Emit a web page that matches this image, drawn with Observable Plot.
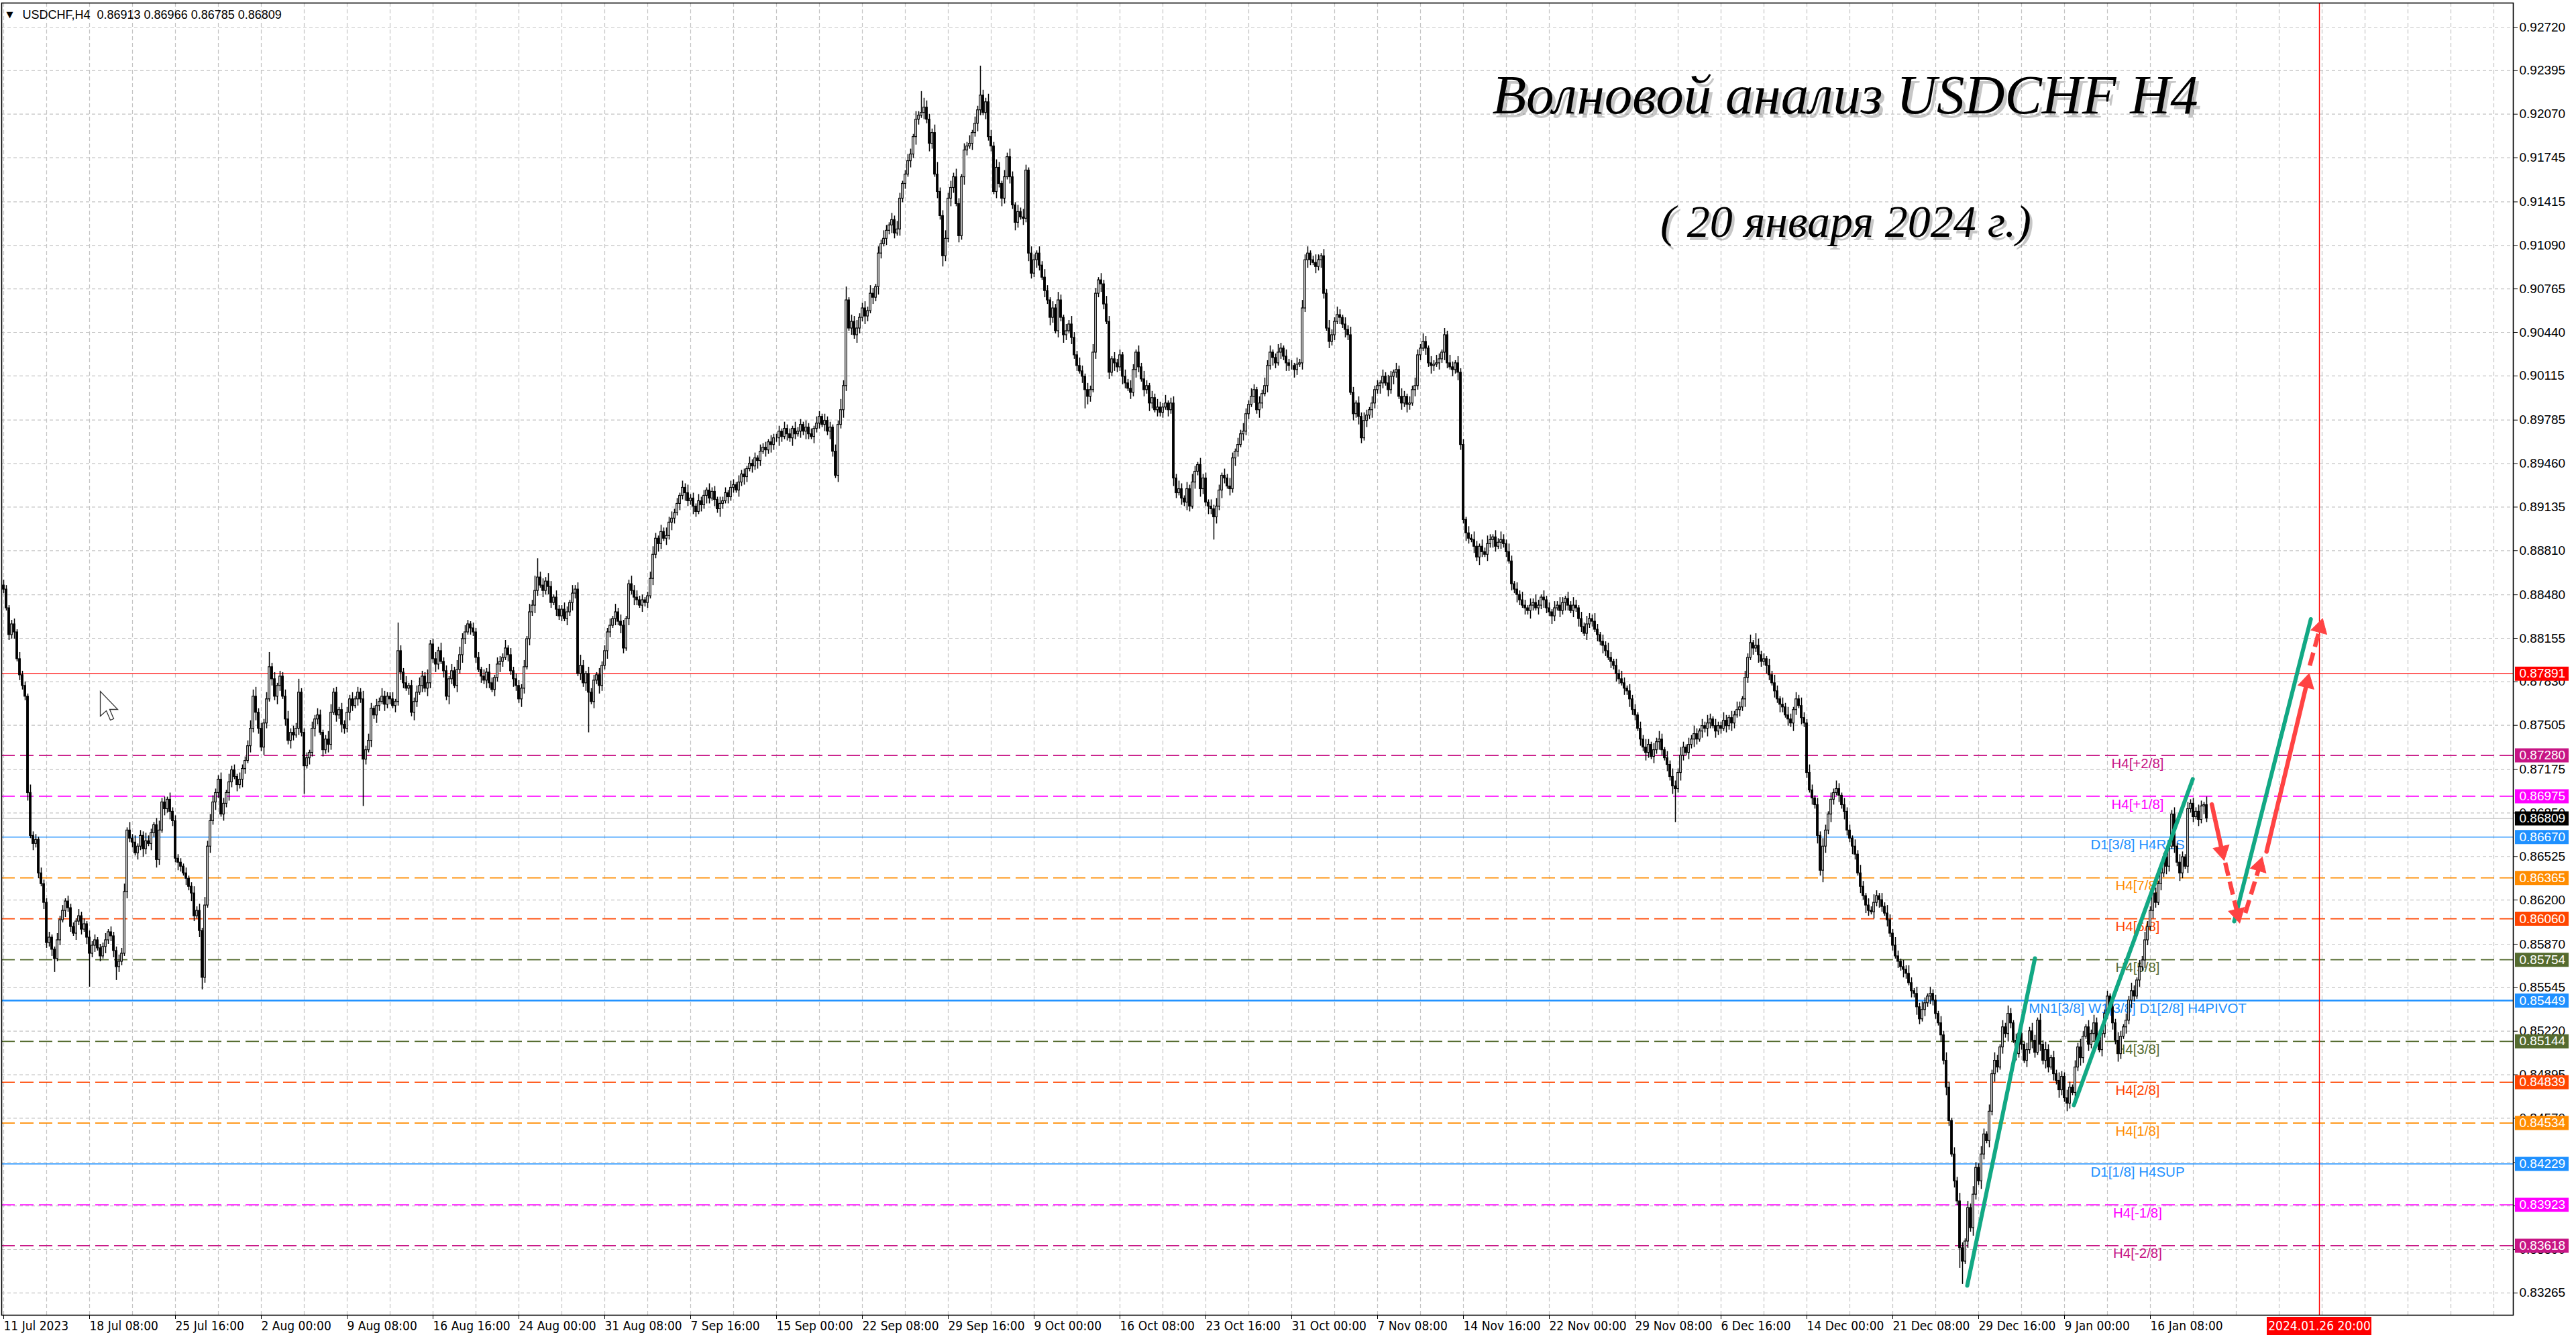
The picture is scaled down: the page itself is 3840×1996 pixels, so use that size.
<!DOCTYPE html>
<html>
<head>
<meta charset="utf-8">
<script src="https://cdn.jsdelivr.net/npm/d3@7"></script>
<script src="https://cdn.jsdelivr.net/npm/@observablehq/plot@0.6"></script>
<style>
  html, body { margin: 0; padding: 0; background: #fff; }
  #chart svg { display: block; }
</style>
</head>
<body>
<div id="chart"></div>
<script>
// ---- data (prices in pips, 0.0001) ----
const symbolName = "USDCHF,H4";
const headerOHLC = [0.86913, 0.86966, 0.86785, 0.86809];
const firstOpen = 8855;

// one close per H4 bar, 16 bars per row
const closes = [
  8852,8838,8818,8826,8820,8800,8788,8780,8772,8700,8668,8662,8665,8640,8632,8618,
  8588,8592,8583,8576,8590,8605,8612,8619,8614,8600,8595,8604,8608,8598,8602,8592,
  8580,8586,8590,8584,8578,8585,8590,8596,8593,8582,8570,8574,8580,8626,8672,8666,
  8663,8655,8660,8668,8658,8664,8662,8670,8676,8650,8672,8693,8688,8695,8686,8679,
  8651,8648,8645,8640,8636,8630,8625,8608,8612,8597,8562,8616,8660,8679,8693,8700,
  8710,8684,8692,8700,8708,8717,8712,8706,8710,8718,8724,8735,8748,8772,8760,8748,
  8734,8752,8770,8794,8785,8772,8780,8787,8772,8755,8739,8745,8743,8748,8775,8745,
  8720,8726,8730,8748,8755,8758,8745,8732,8740,8736,8760,8775,8758,8762,8751,8748,
  8760,8770,8765,8770,8775,8770,8725,8732,8739,8763,8758,8765,8768,8772,8766,8772,
  8770,8765,8768,8806,8790,8782,8778,8780,8760,8768,8775,8780,8787,8778,8782,8811,
  8800,8796,8806,8798,8791,8772,8785,8791,8780,8792,8803,8815,8820,8826,8823,8820,
  8801,8792,8787,8784,8790,8782,8777,8786,8796,8798,8801,8808,8803,8791,8785,8780,
  8770,8778,8794,8815,8835,8840,8851,8861,8855,8851,8858,8854,8842,8846,8837,8832,
  8837,8830,8835,8842,8849,8852,8789,8795,8782,8789,8775,8768,8784,8788,8780,8795,
  8806,8820,8825,8830,8835,8828,8825,8808,8830,8856,8851,8846,8844,8840,8844,8842,
  8847,8860,8878,8890,8886,8895,8890,8892,8902,8905,8909,8916,8922,8928,8924,8918,
  8920,8914,8910,8918,8915,8922,8926,8920,8925,8919,8912,8916,8918,8924,8921,8928,
  8930,8926,8932,8938,8936,8942,8946,8944,8950,8948,8955,8958,8956,8962,8960,8965,
  8965,8970,8966,8972,8968,8965,8972,8968,8970,8975,8970,8973,8968,8966,8972,8976,
  8981,8975,8978,8970,8973,8955,8937,8975,8986,9004,9068,9047,9052,9042,9047,9055,
  9062,9056,9060,9073,9070,9078,9103,9110,9114,9120,9124,9128,9118,9121,9144,9155,
  9162,9172,9177,9190,9203,9206,9208,9212,9203,9185,9193,9162,9149,9131,9101,9114,
  9144,9152,9160,9140,9116,9160,9180,9183,9185,9193,9200,9210,9221,9208,9216,9190,
  9183,9149,9167,9155,9144,9160,9175,9160,9139,9126,9134,9130,9129,9165,9103,9088,
  9098,9103,9094,9085,9075,9068,9055,9062,9045,9068,9055,9042,9045,9050,9040,9027,
  9019,9015,9011,9001,8996,9001,9029,9073,9083,9080,9065,9052,9014,9024,9021,9018,
  9027,9011,9006,9002,8999,9016,9029,9018,9009,9001,9004,8991,8995,8986,8988,8984,
  8988,8991,8986,8991,8935,8924,8927,8920,8917,8927,8914,8932,8940,8945,8927,8935,
  8917,8914,8912,8906,8914,8926,8937,8935,8929,8927,8950,8955,8960,8968,8970,8983,
  8990,8996,9001,8986,8991,8998,9004,9019,9029,9025,9021,9029,9032,9026,9021,9019,
  9019,9016,9020,9021,9062,9098,9103,9098,9096,9093,9098,9101,9073,9047,9037,9042,
  9052,9057,9055,9050,9046,9042,8999,8983,8991,8981,8965,8978,8982,8986,8991,9001,
  9004,9006,9011,9006,9001,9011,9014,9016,8996,8991,8996,8990,8991,9001,9004,9027,
  9032,9037,9032,9021,9019,9020,9021,9024,9029,9042,9021,9018,9016,9021,9014,8960,
  8904,8894,8890,8889,8884,8876,8884,8880,8878,8886,8889,8891,8884,8887,8889,8886,
  8880,8873,8856,8852,8848,8844,8840,8838,8836,8840,8842,8838,8840,8846,8844,8838,
  8835,8832,8838,8840,8836,8842,8845,8840,8836,8840,8838,8830,8824,8819,8826,8830,
  8828,8822,8818,8813,8810,8806,8801,8798,8795,8789,8785,8782,8778,8776,8770,8762,
  8758,8748,8740,8734,8730,8736,8727,8732,8738,8740,8732,8726,8721,8712,8705,8703,
  8715,8728,8734,8730,8736,8740,8744,8740,8746,8750,8748,8752,8755,8750,8746,8750,
  8748,8754,8750,8756,8752,8758,8762,8764,8770,8786,8801,8812,8808,8810,8803,8798,
  8800,8795,8788,8782,8776,8770,8766,8764,8758,8755,8752,8762,8770,8765,8756,8752,
  8715,8702,8696,8691,8668,8642,8660,8672,8684,8695,8700,8703,8698,8691,8686,8672,
  8666,8660,8654,8640,8630,8623,8616,8612,8611,8618,8623,8620,8615,8610,8605,8595,
  8586,8578,8574,8570,8568,8565,8558,8552,8550,8540,8531,8538,8543,8548,8550,8545,
  8535,8528,8519,8500,8480,8455,8430,8410,8395,8360,8350,8365,8390,8375,8400,8420,
  8410,8430,8445,8440,8462,8490,8500,8495,8510,8525,8520,8535,8528,8515,8505,8520,
  8512,8500,8508,8522,8515,8506,8530,8512,8500,8508,8495,8502,8490,8485,8478,8488,
  8472,8468,8480,8476,8495,8510,8502,8518,8525,8512,8520,8528,8515,8508,8520,8535,
  8548,8540,8528,8515,8505,8518,8525,8530,8545,8552,8548,8560,8570,8575,8590,8600,
  8612,8625,8618,8632,8640,8652,8645,8660,8684,8660,8648,8640,8652,8645,8688,8692,
  8682,8686,8680,8690,8691,8681
];

// wick lengths in pips, one base-36 char per bar
const wickUp = [
  "4323425332634243","3422534243325342","5342335243354626","3524364325734253",
  "4332423535264553","3542634253346573","435b3524356354a3","3425354236634253",
  "4352436354253643","352l4352435643a3","4536342537645324","3425364254362534",
  "435264be45364253","3542635842534253","4352635423645342","3564253645342536",
  "3425342534253425","4253425342534253","3425342534253425","4253425384a25463",
  "4536425364253642","354263g754369346","453642536253m436","5364253642536425",
  "4253642536425364","3642536425364253","4253642536425364","3624536425364253",
  "4253642536425364","3642536452364253","4253645236425364","3642536425364253",
  "4253642536425364","3642536425364253","4253642536425364","3642536425364253",
  "4253642536425364","3642536425364253","4253642536425364","3642536425364253",
  "3642536425362953","4253642536425364","3642536425364253","4253642536425364",
  "3642536425364253","4253642536425364","3642536425364253","4253642536425364",
  "3642536425364253","4253642536425364","3642536435264253","435426"
].join("");
const wickDown = [
  "3243524336253425","435a242534253425","p352425345a43253","4253642536425364",
  "3642536425942536","4253642536425364","3642536425364253","l253642536425364",
  "364253z425364253","4253642536425364","3642536425364253","4253642536425364",
  "3642536425364253","4253642536u25364","3642536425364253","4253642536425364",
  "3642536425364253","4253642536425364","3642536425364253","4253642536425364",
  "3642536425364253","4253642536425384","3642536425364253","4253642536425364",
  "3642536425364253","425e642536425364","3642536425364253","4253642536425364",
  "364h536425364253","4253642536425364","3642536425364253","4253642536425364",
  "3642536425364253","4253642536425364","3642536425364253","4253642536425364",
  "3642536425364253","4253642536425364","425364253642536p","3642536425364253",
  "4253642536425364","3642536425364253","4253649536425364","3642536425364253",
  "4253642536425364","425364253fh25364","3642536425364253","4253642536425364",
  "3642536425364253","4253642536425364","3642536425364253","425363"
].join("");

// time axis: one label every 32 bars
const xTickLabels = [
  "11 Jul 2023","18 Jul 08:00","25 Jul 16:00","2 Aug 00:00","9 Aug 08:00","16 Aug 16:00",
  "24 Aug 00:00","31 Aug 08:00","7 Sep 16:00","15 Sep 00:00","22 Sep 08:00","29 Sep 16:00",
  "9 Oct 00:00","16 Oct 08:00","23 Oct 16:00","31 Oct 00:00","7 Nov 08:00","14 Nov 16:00",
  "22 Nov 00:00","29 Nov 08:00","6 Dec 16:00","14 Dec 00:00","21 Dec 08:00","29 Dec 16:00",
  "9 Jan 00:00","16 Jan 08:00"
];
const yTicks = [
  0.92720,0.92395,0.92070,0.91745,0.91415,0.91090,0.90765,0.90440,0.90115,0.89785,
  0.89460,0.89135,0.88810,0.88480,0.88155,0.87830,0.87505,0.87175,0.86850,0.86525,
  0.86200,0.85870,0.85545,0.85220,0.84895,0.84570,0.84240,0.83915,0.83590,0.83265
];

// Murrey-math levels
const levelNames = [
  "H4[+2/8]","H4[+1/8]","D1[3/8] H4RES","H4[7/8]","H4[6/8]","H4[5/8]",
  "MN1[3/8] W1[3/8] D1[2/8] H4PIVOT","H4[3/8]","H4[2/8]","H4[1/8]",
  "D1[1/8] H4SUP","H4[-1/8]","H4[-2/8]"
];
const levelPrices = [
  0.87280,0.86975,0.86670,0.86365,0.86060,0.85754,0.85449,0.85144,0.84839,0.84534,
  0.84229,0.83923,0.83618
];
const redLinePrice = 0.87891;
const markerBar = 863;
const markerLabel = "2024.01.26 20:00";

// wave lines and forecast arrows (bar index, price)
const waveLines = [
  {i1: 731.75, p1: 0.83319, i2: 757.0, p2: 0.85765},
  {i1: 771.5, p1: 0.84667, i2: 815.8, p2: 0.87103},
  {i1: 831.25, p1: 0.86040, i2: 859.8, p2: 0.88298}
];
const forecastArrows = [
  {i1: 822.9, p1: 0.86914, i2: 827.5, p2: 0.86496, kind: "main"},
  {i1: 827.9, p1: 0.86479, i2: 833.3, p2: 0.86028, kind: "alt"},
  {i1: 835.4, p1: 0.86103, i2: 841.7, p2: 0.86520, kind: "alt"},
  {i1: 843.3, p1: 0.86562, i2: 859.2, p2: 0.87892, kind: "main"},
  {i1: 859.4, p1: 0.87951, i2: 864.2, p2: 0.88302, kind: "alt"}
];
// mouse pointer left on the screenshot
const pointerAt = {i: 36, p: 0.87759};
const titleText = "Волновой анализ USDCHF H4";
const subtitleText = "( 20 января 2024 г.)";

// ---- styles ----
const levelStyle = {
  "H4[+2/8]": {color: "#c71585", dash: true, width: 1.7},
  "H4[+1/8]": {color: "#ff00ff", dash: true, width: 1.7},
  "D1[3/8] H4RES": {color: "#1e90ff", dash: false, width: 1.4},
  "H4[7/8]": {color: "#ff8c00", dash: true, width: 1.7},
  "H4[6/8]": {color: "#ff4500", dash: true, width: 1.7},
  "H4[5/8]": {color: "#556b2f", dash: true, width: 1.7},
  "MN1[3/8] W1[3/8] D1[2/8] H4PIVOT": {color: "#1e90ff", dash: false, width: 2.6},
  "H4[3/8]": {color: "#556b2f", dash: true, width: 1.7},
  "H4[2/8]": {color: "#ff4500", dash: true, width: 1.7},
  "H4[1/8]": {color: "#ff8c00", dash: true, width: 1.7},
  "D1[1/8] H4SUP": {color: "#1e90ff", dash: false, width: 1.4},
  "H4[-1/8]": {color: "#ff00ff", dash: true, width: 1.7},
  "H4[-2/8]": {color: "#c71585", dash: true, width: 1.7}
};
const W = 3840, H = 1996;
const mLeft = 2, mRight = 94, mTop = 4, mBottom = 36;
const xDomain = [-0.75, 935.25];
const yDomain = [0.830988, 0.929004];
const kx = (W - mLeft - mRight) / (xDomain[1] - xDomain[0]);
const ky = (H - mTop - mBottom) / (yDomain[1] - yDomain[0]);
const sans = "'Liberation Sans', Arial, sans-serif";
const narrow = "'Liberation Sans Narrow', 'DejaVu Sans Condensed', sans-serif";
const serif = "'Liberation Serif', serif";
const fmt5 = d3.format(".5f");
const arrowRed = "#ff4343";
const waveGreen = "#12a884";

// arrow cursor outline, tip at the anchor point
const pointerSymbol = {
  draw(ctx) {
    const pts = [[0, 0], [0, 37], [9, 29], [15, 43], [20, 41], [14, 27], [26, 27]];
    ctx.moveTo(pts[0][0], pts[0][1]);
    for (const [px, py] of pts.slice(1)) ctx.lineTo(px, py);
    ctx.closePath();
  }
};

// ---- derived tables ----
const candles = closes.map((c, i) => {
  const o = i === 0 ? firstOpen : closes[i - 1];
  const up = parseInt(wickUp[i] || "3", 36);
  const dn = parseInt(wickDown[i] || "3", 36);
  return {i, open: o / 1e4, close: c / 1e4,
    high: (Math.max(o, c) + up) / 1e4, low: (Math.min(o, c) - dn) / 1e4};
});
const levels = levelNames.map((name, k) => ({name, price: levelPrices[k], ...levelStyle[name]}));
const boxes = [
  {price: redLinePrice, color: "#ff0000"},
  ...levels.map(d => ({price: d.price, color: d.color})),
  {price: headerOHLC[3], color: "#000000"}
];
const xTickBars = xTickLabels.map((_, k) => k * 32);
const labelOf = new Map(xTickBars.map((b, k) => [b, xTickLabels[k]]));
const gridBars = d3.range(0, xDomain[1], 16);

// arrow heads: triangle centred behind the tip, rotated along the shaft
const headBack = 14;
const arrows = forecastArrows.map(a => {
  const vx = (a.i2 - a.i1) * kx, vy = -(a.p2 - a.p1) * ky;
  const len = Math.hypot(vx, vy), ux = vx / len, uy = vy / len;
  return {...a,
    ie: a.i2 - 14 * ux / kx, pe: a.p2 + 14 * uy / ky,
    ih: a.i2 - headBack * ux / kx, ph: a.p2 + headBack * uy / ky,
    rot: Math.atan2(ux, -uy) * 180 / Math.PI};
});

// right-margin price boxes, in scale units
const boxX1 = xDomain[1] + 3 / kx, boxX2 = xDomain[1] + 83 / kx;

const chart = Plot.plot({
  width: W, height: H,
  marginLeft: mLeft, marginRight: mRight, marginTop: mTop, marginBottom: mBottom,
  x: {domain: xDomain},
  y: {domain: yDomain},
  color: {type: "identity"},
  style: {fontFamily: sans, background: "#fff", overflow: "visible"},
  marks: [
    // grid
    Plot.ruleX(gridBars, {x: d => d, stroke: "#c4c4c4", strokeDasharray: "6,4", strokeWidth: 1.2}),
    Plot.ruleY(yTicks, {y: d => d, stroke: "#c4c4c4", strokeDasharray: "5,4", strokeWidth: 1.2}),
    // levels
    Plot.ruleY(levels.filter(d => d.dash), {y: "price", stroke: "color", strokeWidth: "width", strokeDasharray: "20,8"}),
    Plot.ruleY(levels.filter(d => !d.dash), {y: "price", stroke: "color", strokeWidth: "width"}),
    Plot.ruleY([redLinePrice], {stroke: "#ff0000", strokeWidth: 1.4}),
    Plot.ruleY([headerOHLC[3]], {stroke: "#bdbdbd", strokeWidth: 1.4}),
    Plot.ruleX([markerBar], {stroke: "#ff0000", strokeWidth: 1.4}),
    Plot.text(levels, {
      y: "price", text: "name", fill: "color", frameAnchor: "right", dx: -560,
      textAnchor: "middle", lineAnchor: "top", dy: 4, fontSize: 20.5, fontFamily: sans
    }),
    // candles
    Plot.ruleX(candles, {x: "i", y1: "low", y2: "high", stroke: "#000", strokeWidth: 1.5}),
    Plot.rect(candles.filter(d => d.close >= d.open), {
      x1: d => d.i - 0.32, x2: d => d.i + 0.32, y1: "open", y2: "close",
      fill: "#fff", stroke: "#000", strokeWidth: 1.2
    }),
    Plot.rect(candles.filter(d => d.close < d.open), {
      x1: d => d.i - 0.32, x2: d => d.i + 0.32, y1: "open", y2: "close",
      fill: "#000", stroke: "#000", strokeWidth: 1.2
    }),
    // waves and forecast
    Plot.link(waveLines, {x1: "i1", y1: "p1", x2: "i2", y2: "p2", stroke: waveGreen, strokeWidth: 6, strokeLinecap: "round"}),
    Plot.link(arrows.filter(d => d.kind === "main"), {x1: "i1", y1: "p1", x2: "ie", y2: "pe", stroke: arrowRed, strokeWidth: 6.5, strokeLinecap: "round"}),
    Plot.link(arrows.filter(d => d.kind === "alt"), {x1: "i1", y1: "p1", x2: "ie", y2: "pe", stroke: arrowRed, strokeWidth: 6.5, strokeDasharray: "20,9"}),
    Plot.dot(arrows, {x: "ih", y: "ph", symbol: "triangle", r: 9, rotate: "rot", fill: arrowRed, stroke: arrowRed, strokeWidth: 1}),
    Plot.dot([pointerAt], {x: "i", y: "p", symbol: pointerSymbol, fill: "#fff", stroke: "#333", strokeWidth: 1.3}),
    // axes
    Plot.axisY(yTicks, {
      anchor: "right", tickFormat: fmt5, tickSize: 6, tickPadding: 3, label: null,
      fontSize: 19, fontFamily: sans, color: "#000"
    }),
    Plot.axisX(xTickBars, {
      anchor: "bottom", tickFormat: d => labelOf.get(d), textAnchor: "start", tickSize: 6,
      tickPadding: 3, label: null, fontSize: 19, fontFamily: narrow, color: "#000"
    }),
    Plot.ruleY(boxes, {y: "price", x1: () => boxX1, x2: () => boxX2, stroke: "color", strokeWidth: 21}),
    Plot.text(boxes, {
      y: "price", text: d => fmt5(d.price), frameAnchor: "right", dx: 9, textAnchor: "start",
      fill: "#fff", fontSize: 19, fontFamily: sans
    }),
    Plot.rect([markerLabel], {
      x1: () => markerBar - 78 / kx, x2: () => markerBar + 78 / kx,
      y1: () => yDomain[0] - 3 / ky, y2: () => yDomain[0] - 30 / ky, fill: "#ff0000"
    }),
    Plot.text([markerLabel], {
      x: () => markerBar, frameAnchor: "bottom", dy: 16, textAnchor: "middle", lineAnchor: "middle",
      fill: "#fff", fontSize: 19, fontFamily: narrow
    }),
    Plot.frame({stroke: "#000", strokeWidth: 1.6}),
    // header and title
    Plot.text(["▼"], {frameAnchor: "top-left", dx: 7, dy: 17, textAnchor: "start", lineAnchor: "middle", fontSize: 13, fontFamily: "'DejaVu Sans', sans-serif"}),
    Plot.text([`${symbolName}  ${headerOHLC.map(fmt5).join(" ")}`], {
      frameAnchor: "top-left", dx: 31, dy: 18, textAnchor: "start", lineAnchor: "middle", fontSize: 18, fontFamily: sans
    }),
    Plot.text([titleText], {
      frameAnchor: "top-left", dx: 2753, dy: 144, textAnchor: "middle", lineAnchor: "middle",
      fontSize: 83, fontFamily: serif, fontStyle: "italic", fill: "#000", fillOpacity: 0.22
    }),
    Plot.text([titleText], {
      frameAnchor: "top-left", dx: 2748, dy: 138, textAnchor: "middle", lineAnchor: "middle",
      fontSize: 83, fontFamily: serif, fontStyle: "italic", fill: "#000"
    }),
    Plot.text([subtitleText], {
      frameAnchor: "top-left", dx: 2753, dy: 332, textAnchor: "middle", lineAnchor: "middle",
      fontSize: 68, fontFamily: serif, fontStyle: "italic", fill: "#000", fillOpacity: 0.22
    }),
    Plot.text([subtitleText], {
      frameAnchor: "top-left", dx: 2749, dy: 327, textAnchor: "middle", lineAnchor: "middle",
      fontSize: 68, fontFamily: serif, fontStyle: "italic", fill: "#000"
    })
  ]
});

document.getElementById("chart").append(chart);
</script>
</body>
</html>
